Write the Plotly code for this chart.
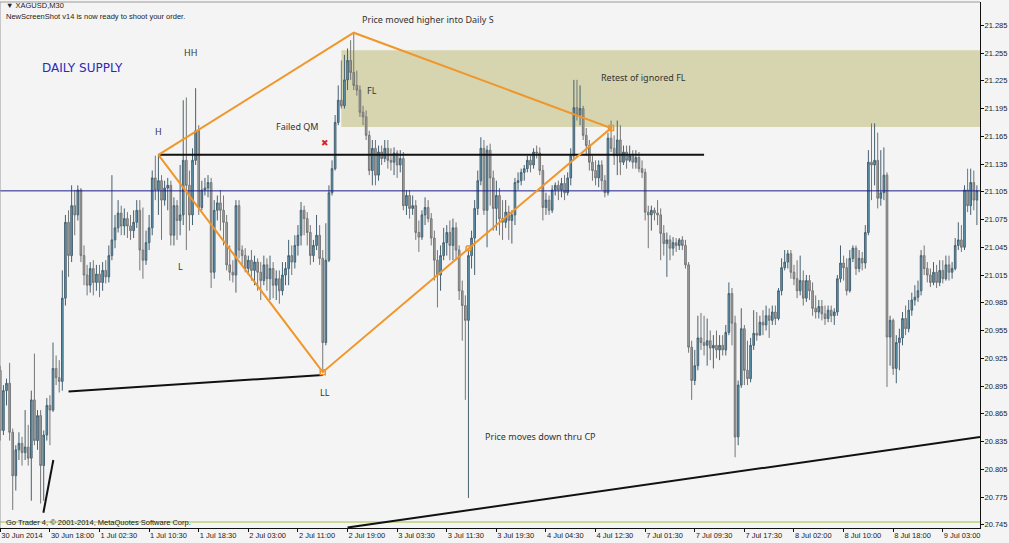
import plotly.graph_objects as go

# ---------------- data (XAGUSD M30) ----------------
opens = [
    20.912, 20.847, 20.890, 20.898, 20.845, 20.798, 20.826, 20.833, 20.823, 20.829,
    20.817, 20.880, 20.836, 20.863, 20.809, 20.842, 20.874, 20.869, 20.914, 20.904,
    20.900, 20.990, 21.072, 21.036, 21.090, 21.080, 21.107, 21.036, 21.015, 21.004,
    21.022, 21.007, 21.016, 21.007, 21.020, 21.013, 21.036, 21.053, 21.066, 21.082,
    21.068, 21.076, 21.068, 21.063, 21.072, 21.085, 21.042, 21.031, 21.050, 21.066,
    21.120, 21.107, 21.117, 21.096, 21.109, 21.112, 21.058, 21.090, 21.074, 21.080,
    21.139, 21.112, 21.080, 21.139, 21.171, 21.088, 21.107, 21.109, 21.115, 21.018,
    21.085, 21.093, 21.085, 21.072, 21.026, 21.018, 21.015, 21.090, 21.042, 21.036,
    21.022, 21.031, 21.020, 21.029, 21.018, 21.009, 21.026, 21.011, 21.022, 21.004,
    21.011, 20.998, 21.015, 21.022, 21.036, 21.029, 21.047, 21.058, 21.085, 21.076,
    21.061, 21.036, 21.047, 21.058, 21.033, 20.942, 21.031, 21.104, 21.130, 21.180,
    21.204, 21.198, 21.226, 21.247, 21.234, 21.220, 21.215, 21.191, 21.186, 21.166,
    21.128, 21.152, 21.123, 21.148, 21.141, 21.152, 21.139, 21.137, 21.147, 21.134,
    21.141, 21.090, 21.101, 21.087, 21.090, 21.061, 21.056, 21.080, 21.088, 21.076,
    21.055, 21.031, 21.015, 21.036, 21.050, 21.061, 21.047, 21.066, 21.042, 20.998,
    20.982, 20.966, 21.036, 21.055, 21.087, 21.117, 21.152, 21.085, 21.150, 21.120,
    21.087, 21.101, 21.076, 21.072, 21.083, 21.074, 21.080, 21.115, 21.117, 21.126,
    21.130, 21.139, 21.134, 21.148, 21.147, 21.128, 21.088, 21.096, 21.085, 21.107,
    21.112, 21.107, 21.114, 21.104, 21.120, 21.144, 21.196, 21.188, 21.195, 21.166,
    21.155, 21.137, 21.128, 21.120, 21.134, 21.117, 21.104, 21.163, 21.152, 21.144,
    21.161, 21.137, 21.148, 21.139, 21.144, 21.137, 21.142, 21.130, 21.126, 21.083,
    21.080, 21.085, 21.082, 21.080, 21.060, 21.049, 21.053, 21.044, 21.050, 21.047,
    21.053, 21.047, 21.026, 20.937, 20.901, 20.917, 20.947, 20.942, 20.939, 20.944,
    20.936, 20.939, 20.934, 20.939, 20.934, 20.953, 20.995, 20.963, 20.840, 20.896,
    20.957, 20.912, 20.903, 20.939, 20.952, 20.950, 20.964, 20.961, 20.971, 20.966,
    20.975, 20.968, 20.998, 21.023, 21.029, 21.038, 21.018, 21.011, 20.998, 21.009,
    20.990, 21.009, 20.998, 20.979, 20.975, 20.981, 20.973, 20.968, 20.977, 20.971,
    20.975, 21.011, 21.028, 21.023, 20.998, 21.033, 21.044, 21.022, 21.033, 21.028,
    21.061, 21.137, 21.134, 21.139, 21.098, 21.104, 21.123, 20.948, 20.966, 20.914,
    20.942, 20.947, 20.968, 20.957, 20.977, 20.988, 20.991, 20.998, 21.036, 21.022,
    21.015, 21.007, 21.018, 21.007, 21.020, 21.011, 21.026, 21.018, 21.022, 21.047,
    21.053, 21.045, 21.107, 21.090, 21.115, 21.096,
]
highs = [
    20.917, 20.896, 20.903, 20.920, 20.849, 20.831, 20.845, 20.840, 20.869, 20.853,
    20.890, 20.930, 20.869, 20.869, 20.847, 20.882, 20.885, 20.942, 20.928, 20.923,
    21.020, 21.080, 21.085, 21.112, 21.107, 21.112, 21.109, 21.047, 21.026, 21.029,
    21.031, 21.026, 21.026, 21.029, 21.031, 21.047, 21.123, 21.080, 21.096, 21.090,
    21.087, 21.083, 21.080, 21.085, 21.096, 21.096, 21.088, 21.063, 21.080, 21.128,
    21.144, 21.145, 21.123, 21.117, 21.120, 21.117, 21.099, 21.096, 21.134, 21.204,
    21.207, 21.128, 21.152, 21.217, 21.177, 21.117, 21.120, 21.123, 21.120, 21.096,
    21.101, 21.107, 21.101, 21.080, 21.047, 21.031, 21.096, 21.096, 21.047, 21.044,
    21.036, 21.042, 21.036, 21.033, 21.029, 21.036, 21.033, 21.036, 21.029, 21.020,
    21.020, 21.029, 21.029, 21.053, 21.047, 21.058, 21.069, 21.094, 21.090, 21.083,
    21.069, 21.053, 21.080, 21.069, 21.042, 21.071, 21.112, 21.139, 21.188, 21.220,
    21.247, 21.253, 21.260, 21.269, 21.277, 21.236, 21.220, 21.198, 21.193, 21.171,
    21.161, 21.161, 21.155, 21.155, 21.161, 21.161, 21.152, 21.153, 21.150, 21.150,
    21.148, 21.107, 21.107, 21.101, 21.096, 21.074, 21.085, 21.099, 21.096, 21.082,
    21.063, 21.042, 21.047, 21.066, 21.069, 21.074, 21.076, 21.072, 21.047, 21.009,
    20.993, 21.042, 21.063, 21.096, 21.128, 21.164, 21.161, 21.155, 21.157, 21.128,
    21.117, 21.109, 21.096, 21.096, 21.090, 21.085, 21.120, 21.126, 21.130, 21.134,
    21.144, 21.144, 21.152, 21.155, 21.153, 21.134, 21.104, 21.101, 21.112, 21.115,
    21.117, 21.120, 21.123, 21.126, 21.152, 21.226, 21.226, 21.220, 21.198, 21.174,
    21.161, 21.144, 21.139, 21.139, 21.139, 21.123, 21.169, 21.182, 21.166, 21.182,
    21.177, 21.155, 21.155, 21.155, 21.150, 21.150, 21.148, 21.139, 21.130, 21.090,
    21.090, 21.088, 21.096, 21.087, 21.069, 21.061, 21.058, 21.056, 21.055, 21.055,
    21.057, 21.053, 21.029, 20.944, 20.934, 20.971, 20.974, 20.971, 20.968, 20.955,
    20.950, 20.955, 20.950, 20.950, 20.961, 21.007, 21.001, 20.971, 20.901, 20.979,
    20.961, 20.944, 20.947, 20.977, 20.975, 20.971, 20.977, 20.982, 20.979, 20.982,
    20.982, 21.001, 21.033, 21.042, 21.042, 21.042, 21.026, 21.031, 21.036, 21.020,
    21.015, 21.015, 21.007, 20.993, 20.988, 20.988, 20.982, 20.982, 20.982, 20.979,
    21.015, 21.047, 21.036, 21.033, 21.042, 21.047, 21.047, 21.042, 21.040, 21.069,
    21.150, 21.179, 21.179, 21.169, 21.150, 21.153, 21.126, 20.971, 20.968, 20.950,
    20.957, 20.975, 20.982, 20.988, 20.996, 21.004, 21.009, 21.042, 21.047, 21.029,
    21.022, 21.029, 21.026, 21.031, 21.031, 21.036, 21.036, 21.029, 21.055, 21.072,
    21.069, 21.112, 21.130, 21.130, 21.128, 21.112,
]
lows = [
    20.836, 20.842, 20.874, 20.836, 20.761, 20.782, 20.815, 20.809, 20.815, 20.809,
    20.771, 20.831, 20.826, 20.768, 20.771, 20.836, 20.831, 20.867, 20.896, 20.888,
    20.890, 20.982, 21.013, 21.029, 21.058, 21.074, 21.029, 21.004, 20.993, 20.996,
    20.993, 20.998, 20.991, 20.998, 21.006, 21.007, 21.031, 21.044, 21.061, 21.058,
    21.058, 21.055, 21.053, 21.055, 21.066, 21.020, 21.011, 21.026, 21.042, 21.058,
    21.096, 21.080, 21.053, 21.090, 21.085, 21.047, 21.047, 21.053, 21.058, 21.069,
    21.042, 21.063, 21.069, 21.134, 21.080, 21.085, 21.101, 21.099, 21.001, 21.011,
    21.074, 21.063, 21.047, 21.020, 21.009, 21.007, 20.996, 21.033, 21.026, 21.018,
    21.015, 21.009, 21.004, 20.998, 20.988, 21.004, 20.998, 20.988, 20.990, 20.988,
    20.984, 20.993, 21.004, 21.004, 21.015, 21.022, 21.036, 21.047, 21.058, 21.047,
    21.026, 21.029, 21.042, 21.026, 20.910, 20.939, 21.029, 21.101, 21.128, 21.177,
    21.195, 21.195, 21.215, 21.226, 21.215, 21.209, 21.186, 21.177, 21.161, 21.123,
    21.112, 21.112, 21.117, 21.134, 21.137, 21.130, 21.128, 21.123, 21.120, 21.126,
    21.085, 21.080, 21.076, 21.080, 21.053, 21.040, 21.053, 21.069, 21.072, 21.047,
    21.009, 20.980, 20.998, 21.031, 21.036, 21.031, 21.031, 21.031, 20.988, 20.944,
    20.880, 20.774, 21.022, 21.015, 21.080, 21.112, 21.080, 21.045, 21.090, 21.063,
    21.063, 21.058, 21.053, 21.066, 21.053, 21.049, 21.069, 21.107, 21.112, 21.117,
    21.126, 21.126, 21.130, 21.141, 21.123, 21.074, 21.080, 21.080, 21.082, 21.101,
    21.096, 21.099, 21.096, 21.101, 21.112, 21.139, 21.182, 21.177, 21.161, 21.144,
    21.128, 21.117, 21.112, 21.110, 21.107, 21.099, 21.101, 21.148, 21.134, 21.123,
    21.123, 21.134, 21.130, 21.137, 21.130, 21.130, 21.126, 21.120, 21.074, 21.044,
    21.063, 21.074, 21.069, 21.031, 21.036, 21.013, 21.031, 21.036, 21.040, 21.042,
    21.042, 21.022, 20.931, 20.880, 20.896, 20.912, 20.934, 20.928, 20.917, 20.923,
    20.914, 20.925, 20.923, 20.928, 20.928, 20.950, 20.939, 20.818, 20.831, 20.893,
    20.896, 20.896, 20.899, 20.934, 20.944, 20.950, 20.950, 20.955, 20.947, 20.961,
    20.961, 20.966, 20.993, 21.020, 21.022, 21.011, 21.004, 20.990, 20.993, 20.982,
    20.986, 20.988, 20.971, 20.968, 20.968, 20.966, 20.961, 20.964, 20.964, 20.961,
    20.971, 21.007, 21.009, 20.993, 20.996, 21.029, 21.015, 21.018, 21.020, 21.022,
    21.058, 21.096, 21.112, 21.087, 21.090, 21.096, 20.894, 20.917, 20.907, 20.898,
    20.912, 20.939, 20.950, 20.953, 20.971, 20.982, 20.986, 20.993, 21.015, 21.007,
    21.002, 21.004, 21.001, 21.003, 21.006, 21.009, 21.009, 21.011, 21.020, 21.042,
    21.040, 21.042, 21.083, 21.080, 21.085, 21.069,
]
closes = [
    20.847, 20.890, 20.898, 20.845, 20.798, 20.826, 20.833, 20.823, 20.829, 20.817,
    20.880, 20.836, 20.863, 20.809, 20.842, 20.874, 20.869, 20.914, 20.904, 20.900,
    20.990, 21.072, 21.036, 21.090, 21.080, 21.107, 21.036, 21.015, 21.004, 21.022,
    21.007, 21.016, 21.007, 21.020, 21.013, 21.036, 21.053, 21.066, 21.082, 21.068,
    21.076, 21.068, 21.063, 21.072, 21.085, 21.042, 21.031, 21.050, 21.066, 21.120,
    21.107, 21.117, 21.096, 21.109, 21.112, 21.058, 21.090, 21.074, 21.080, 21.139,
    21.112, 21.080, 21.139, 21.171, 21.088, 21.107, 21.109, 21.115, 21.018, 21.085,
    21.093, 21.085, 21.072, 21.026, 21.018, 21.015, 21.090, 21.042, 21.036, 21.022,
    21.031, 21.020, 21.029, 21.018, 21.009, 21.026, 21.011, 21.022, 21.004, 21.011,
    20.998, 21.015, 21.022, 21.036, 21.029, 21.047, 21.058, 21.085, 21.076, 21.061,
    21.036, 21.047, 21.058, 21.033, 20.942, 21.031, 21.104, 21.130, 21.180, 21.204,
    21.198, 21.226, 21.247, 21.234, 21.220, 21.215, 21.191, 21.186, 21.166, 21.128,
    21.152, 21.123, 21.148, 21.141, 21.152, 21.139, 21.137, 21.147, 21.134, 21.141,
    21.090, 21.101, 21.087, 21.090, 21.061, 21.056, 21.080, 21.088, 21.076, 21.055,
    21.031, 21.015, 21.036, 21.050, 21.061, 21.047, 21.066, 21.042, 20.998, 20.982,
    20.966, 21.036, 21.055, 21.087, 21.117, 21.152, 21.085, 21.150, 21.120, 21.087,
    21.101, 21.076, 21.072, 21.083, 21.074, 21.080, 21.115, 21.117, 21.126, 21.130,
    21.139, 21.134, 21.148, 21.147, 21.128, 21.088, 21.096, 21.085, 21.107, 21.112,
    21.107, 21.114, 21.104, 21.120, 21.144, 21.196, 21.188, 21.195, 21.166, 21.155,
    21.137, 21.128, 21.120, 21.134, 21.117, 21.104, 21.163, 21.152, 21.144, 21.161,
    21.137, 21.148, 21.139, 21.144, 21.137, 21.142, 21.130, 21.126, 21.083, 21.080,
    21.085, 21.082, 21.080, 21.060, 21.049, 21.053, 21.044, 21.050, 21.047, 21.053,
    21.047, 21.026, 20.937, 20.901, 20.917, 20.947, 20.942, 20.939, 20.944, 20.936,
    20.939, 20.934, 20.939, 20.934, 20.953, 20.995, 20.963, 20.840, 20.896, 20.957,
    20.912, 20.903, 20.939, 20.952, 20.950, 20.964, 20.961, 20.971, 20.966, 20.975,
    20.968, 20.998, 21.023, 21.029, 21.038, 21.018, 21.011, 20.998, 21.009, 20.990,
    21.009, 20.998, 20.979, 20.975, 20.981, 20.973, 20.968, 20.977, 20.971, 20.975,
    21.011, 21.028, 21.023, 20.998, 21.033, 21.044, 21.022, 21.033, 21.028, 21.061,
    21.137, 21.134, 21.139, 21.098, 21.104, 21.123, 20.948, 20.966, 20.914, 20.942,
    20.947, 20.968, 20.957, 20.977, 20.988, 20.991, 20.998, 21.036, 21.022, 21.015,
    21.007, 21.018, 21.007, 21.020, 21.011, 21.026, 21.018, 21.022, 21.047, 21.053,
    21.045, 21.107, 21.090, 21.115, 21.096, 21.106,
]

time_labels = ["30 Jun 2014", "30 Jun 18:00", "1 Jul 02:30", "1 Jul 10:30", "1 Jul 18:30",
               "2 Jul 03:00", "2 Jul 11:00", "2 Jul 19:00", "3 Jul 03:30", "3 Jul 11:30",
               "3 Jul 19:30", "4 Jul 04:30", "4 Jul 12:30", "7 Jul 01:30", "7 Jul 09:30",
               "7 Jul 17:30", "8 Jul 02:00", "8 Jul 10:00", "8 Jul 18:00", "9 Jul 03:00"]
time_label_bars = [0, 16, 32, 48, 64, 80, 96, 112, 128, 144,
                   160, 176, 192, 208, 224, 240, 256, 272, 288, 304]
price_ticks = [20.745, 20.775, 20.805, 20.835, 20.865, 20.895, 20.925, 20.955, 20.985, 21.015,
               21.045, 21.075, 21.105, 21.135, 21.165, 21.195, 21.225, 21.255, 21.285]
price_tick_labels = ["20.745", "20.775", "20.805", "20.835", "20.865", "20.895", "20.925",
                     "20.955", "20.985", "21.015", "21.045", "21.075", "21.105", "21.135",
                     "21.165", "21.195", "21.225", "21.255", "21.285"]

# drawn objects (bar number, price)
pattern_bars = [51, 114, 197, 104, 51]            # H -> peak -> retest -> LL -> H
pattern_prices = [21.145, 21.277, 21.174, 20.910, 21.145]
qm_bars = [51, 227]
qm_price = 21.145
zone_start_bar = 110
zone_top, zone_bottom = 21.258, 21.175
support_bars = [22, 104]
support_prices = [20.889, 20.907]
short_tl_bars = [13.9, 17.1]
short_tl_prices = [20.758, 20.815]
long_tl_bars = [112, 316]
long_tl_prices = [20.742, 20.840]
green_level = 20.748

bars = list(range(len(closes)))
X0, X1 = -0.1, 316.0
Y0, Y1 = 20.7415, 21.3102

fig = go.Figure()

fig.add_trace(go.Candlestick(
    x=bars, open=opens, high=highs, low=lows, close=closes,
    increasing=dict(line=dict(color="#466170", width=1), fillcolor="#5b9ebc"),
    decreasing=dict(line=dict(color="#767676", width=1), fillcolor="#a6a6a6"),
    whiskerwidth=0, hoverinfo="skip", showlegend=False,
))

# bid line (last close)
fig.add_trace(go.Scatter(x=[X0, X1], y=[closes[-1], closes[-1]], mode="lines",
                         line=dict(color="#1c1c8a", width=1), hoverinfo="skip", showlegend=False))
# green level
fig.add_trace(go.Scatter(x=[X0, X1], y=[green_level, green_level], mode="lines",
                         line=dict(color="#9ac43c", width=1), hoverinfo="skip", showlegend=False))
# QM level
fig.add_trace(go.Scatter(x=qm_bars, y=[qm_price, qm_price], mode="lines",
                         line=dict(color="#111111", width=2), hoverinfo="skip", showlegend=False))
# trend lines
for bx, py in [(support_bars, support_prices), (short_tl_bars, short_tl_prices),
               (long_tl_bars, long_tl_prices)]:
    fig.add_trace(go.Scatter(x=bx, y=py, mode="lines", line=dict(color="#111111", width=2),
                             hoverinfo="skip", showlegend=False))
# orange QM pattern
fig.add_trace(go.Scatter(x=pattern_bars, y=pattern_prices, mode="lines",
                         line=dict(color="#f0962a", width=2), hoverinfo="skip", showlegend=False))
fig.add_trace(go.Scatter(x=[pattern_bars[3], pattern_bars[2]], y=[pattern_prices[3], pattern_prices[2]],
                         mode="markers", marker=dict(symbol="square-open", size=5, color="#f0962a",
                                                     line=dict(width=1.5)),
                         hoverinfo="skip", showlegend=False))
fig.add_trace(go.Scatter(x=[151], y=[21.044], mode="markers",
                         marker=dict(symbol="circle-open", size=5, color="#f0962a", line=dict(width=1.5)),
                         hoverinfo="skip", showlegend=False))

# supply zone
fig.add_shape(type="rect", xref="x", yref="y", x0=zone_start_bar, x1=X1, y0=zone_bottom, y1=zone_top,
              fillcolor="rgb(214,213,176)", line=dict(width=0), layer="below")
# window borders
fig.add_shape(type="line", xref="paper", yref="paper", x0=0, x1=1, y0=1, y1=1,
              line=dict(color="#9a9a9a", width=1))
fig.add_shape(type="line", xref="paper", yref="paper", x0=0, x1=0, y0=0, y1=1,
              line=dict(color="#9a9a9a", width=1))

txt_font = dict(family="Noto Sans, Liberation Sans, sans-serif", size=9, color="#333333")
notes = [
    ("HH", 61.3, 21.256, "center"),
    ("H", 51, 21.170, "center"),
    ("L", 58, 21.024, "center"),
    ("Failed QM", 96, 21.176, "center"),
    ("Price moved higher into Daily S", 116.1, 21.291, "left"),
    ("FL", 120, 21.214, "center"),
    ("Retest of ignored FL", 193.2, 21.229, "left"),
    ("LL", 104.8, 20.888, "center"),
    ("Price moves down thru CP", 155.8, 20.840, "left"),
]
for t, bx, py, anc in notes:
    fig.add_annotation(x=bx, y=py, xref="x", yref="y", text=t, showarrow=False,
                       xanchor=anc, yanchor="middle", font=txt_font)
fig.add_annotation(x=104.8, y=21.158, xref="x", yref="y", text="✖", showarrow=False,
                   font=dict(family="DejaVu Sans", size=9, color="#e02020"))
fig.add_annotation(x=12.9, y=21.239, xref="x", yref="y", text="DAILY SUPPLY", showarrow=False,
                   xanchor="left", yanchor="middle",
                   font=dict(family="DejaVu Sans", size=12, color="#2a2ab8"))

small = dict(family="Liberation Sans, DejaVu Sans, sans-serif", size=7.5, color="#222222")
fig.add_annotation(x=0.004, y=0.9924, xref="paper", yref="paper", text="▼ XAGUSD,M30",
                   showarrow=False, xanchor="left", yanchor="middle", font=small)
fig.add_annotation(x=0.004, y=0.9715, xref="paper", yref="paper",
                   text="NewScreenShot v14 is now ready to shoot your order.",
                   showarrow=False, xanchor="left", yanchor="middle", font=small)
fig.add_annotation(x=0.004, y=0.0105, xref="paper", yref="paper",
                   text="Go Trader 4, © 2001-2014, MetaQuotes Software Corp.",
                   showarrow=False, xanchor="left", yanchor="middle", font=small)

fig.update_layout(
    width=1009, height=543,
    margin=dict(l=0, r=29, t=2, b=15),
    paper_bgcolor="#f4f4f4", plot_bgcolor="#f4f4f4",
    showlegend=False, hovermode=False,
    boxgap=0.25,
    font=small,
    xaxis=dict(range=[X0, X1], rangeslider=dict(visible=False), showgrid=False, zeroline=False,
               tickmode="array", tickvals=time_label_bars, ticktext=time_labels,
               tickangle=0, ticks="outside", ticklen=3, tickcolor="#111111",
               ticklabelposition="outside right", showline=True, linecolor="#111111", linewidth=1,
               tickfont=small, fixedrange=True, automargin=False),
    yaxis=dict(range=[Y0, Y1], side="right", showgrid=False, zeroline=False,
               tickmode="array", tickvals=price_ticks, ticktext=price_tick_labels,
               ticks="outside", ticklen=3, tickcolor="#111111", ticklabelstandoff=-1,
               showline=True, linecolor="#111111", linewidth=1, tickfont=small,
               fixedrange=True, automargin=False),
)

fig.write_html(
    "out.html",
    config={"displayModeBar": False},
    post_script="document.body.style.margin='0';document.body.style.padding='0';"
                "document.body.style.background='#f4f4f4';",
)
